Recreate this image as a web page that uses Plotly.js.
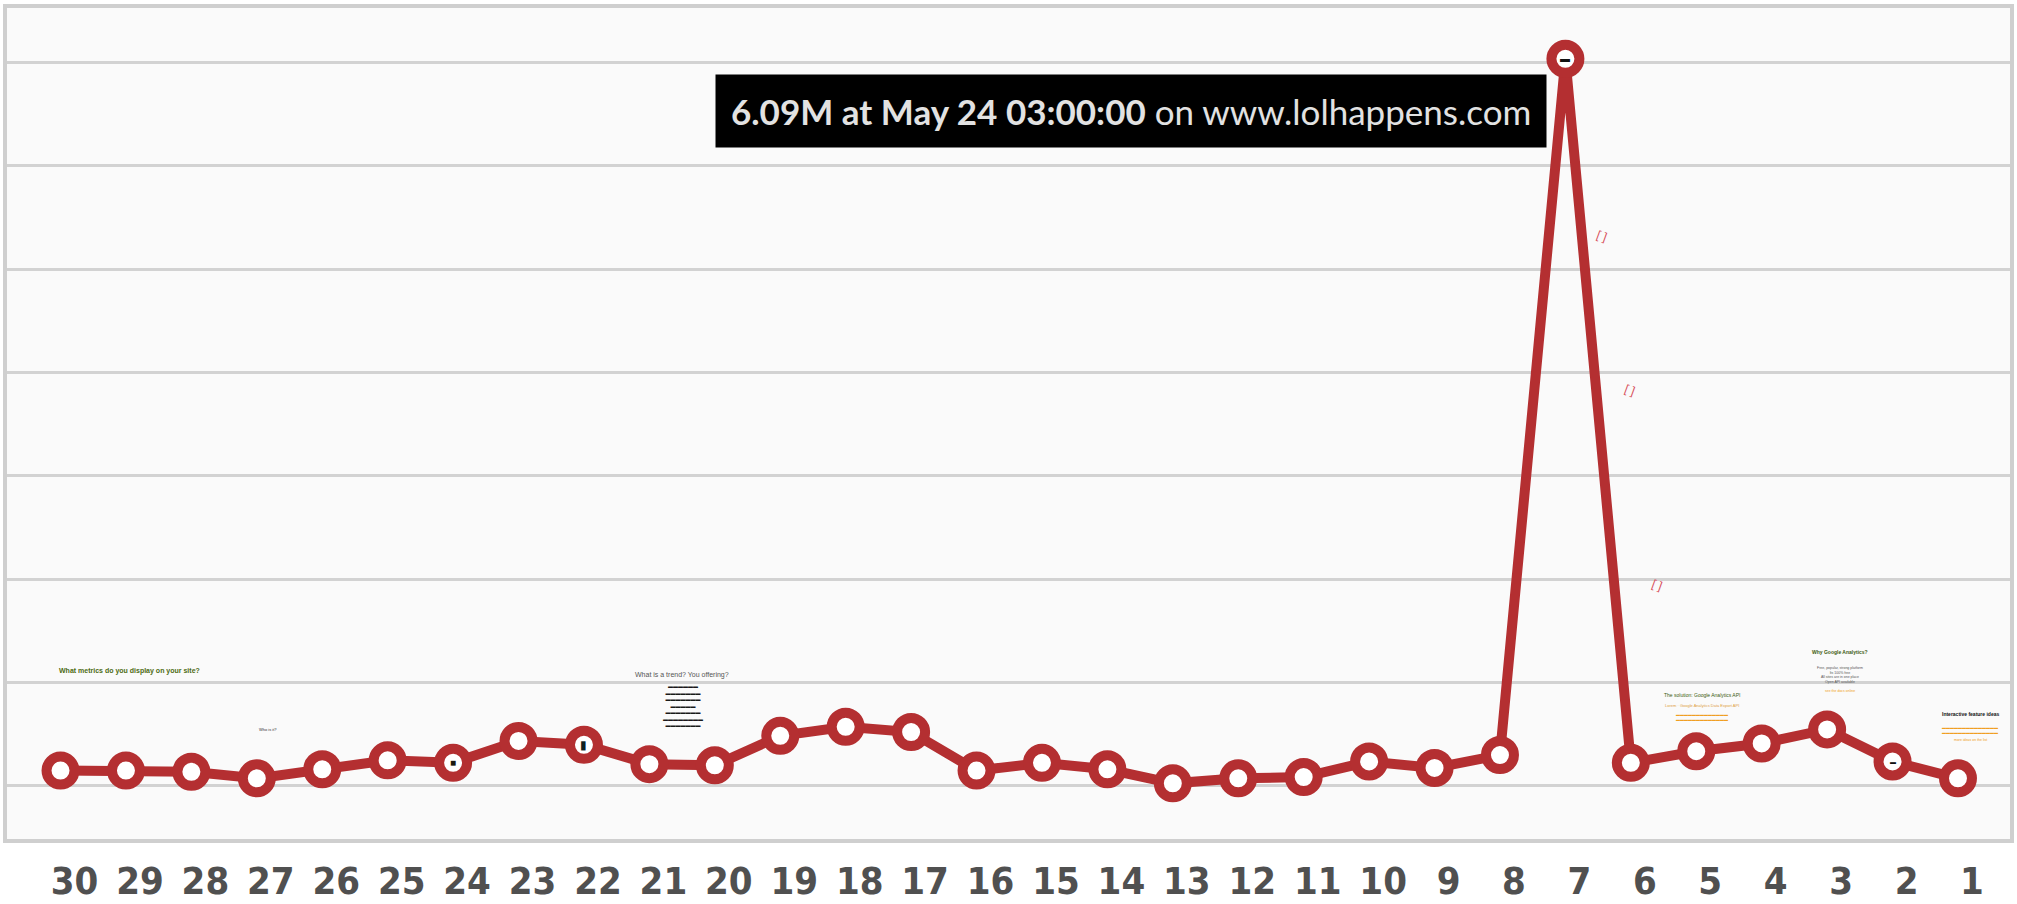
<!DOCTYPE html>
<html>
<head>
<meta charset="utf-8">
<script src="https://cdn.plot.ly/plotly-3.0.1.min.js"></script>
<style>
  html, body { margin: 0; padding: 0; background: #ffffff; }
  #chart { width: 2017px; height: 904px; }
</style>
</head>
<body>
<div id="chart"></div>
<script>
// ---- data ----
const days = ["30","29","28","27","26","25","24","23","22","21",
              "20","19","18","17","16","15","14","13","12","11",
              "10","9","8","7","6","5","4","3","2","1"];
const visitsM = [0.129,0.129,0.119,0.064,0.140,0.215,0.194,0.377,0.345,0.183,
                 0.173,0.420,0.496,0.452,0.129,0.194,0.140,0.022,0.064,0.075,
                 0.205,0.151,0.259,6.09,0.194,0.291,0.356,0.474,0.205,0.064];
const peakDate = "May 24 03:00:00";
const siteName = "www.lolhappens.com";

const RED = "#b42f31";
const peakIdx = visitsM.indexOf(Math.max(...visitsM));

const trace = {
  type: "scatter",
  mode: "lines+markers",
  x: days,
  y: visitsM,
  line: { color: RED, width: 10 },
  marker: { size: 28, color: "#ffffff", line: { color: RED, width: 10 } },
  hoverinfo: "none",
  cliponaxis: false
};

const tiny = (x, y, text, color, size, extra) => Object.assign({
  x: x, y: y, xref: "x", yref: "y", text: text, showarrow: false,
  font: { family: "Liberation Sans, Arial, sans-serif", size: size, color: color }
}, extra || {});

const annotations = [
  // tooltip for peak
  {
    x: peakIdx, y: visitsM[peakIdx], xref: "x", yref: "y",
    xanchor: "right", yanchor: "middle", xshift: -18, yshift: -52,
    showarrow: false, bgcolor: "#000000", borderpad: 15,
    text: "<b>" + visitsM[peakIdx].toFixed(2) + "M at " + peakDate + "</b> on " + siteName,
    font: { family: "Lato, 'Open Sans', sans-serif", size: 35, color: "#e2e2e2" }
  },
  // small decorative notes
  tiny(1.06, 0.963, "<b>What metrics do you display on your site?</b>", "#4d6b12", 7),
  tiny(3.17, 0.477, "Who is it?", "#333333", 4),
  tiny(9.50, 0.930, "What is a trend? You offering?", "#555555", 7),
  tiny(9.51, 0.670, "▬▬▬▬▬▬<br>▬▬▬▬▬▬▬<br>▬▬▬▬▬▬▬<br>▬▬▬▬▬<br>▬▬▬▬▬▬▬<br>▬▬▬▬▬▬▬▬<br>▬▬▬▬▬▬▬", "#1a1a1a", 5),
  tiny(25.09, 0.762, "The solution: Google Analytics API", "#3b5a10", 5),
  tiny(25.09, 0.672, "Lorem · Google Analytics Data Export API", "#e0a040", 4),
  tiny(25.09, 0.575, "<b>▬▬▬▬▬▬▬▬▬▬▬▬▬</b><br><b>▬▬▬▬▬▬▬▬▬▬▬▬▬</b>", "#f0a020", 4),
  tiny(27.20, 1.122, "<b>Why Google Analytics?</b>", "#3b5a10", 5),
  tiny(27.20, 0.930, "Free, popular, strong platform<br>Its 100% free<br>All sites are in one place<br>Open API available", "#555555", 3.5),
  tiny(27.20, 0.796, "see the docs online", "#f0a020", 3.5),
  tiny(29.19, 0.603, "<b>Interactive feature ideas</b>", "#111111", 5),
  tiny(29.19, 0.469, "<b>▬▬▬▬▬▬▬▬▬▬▬▬▬▬</b><br><b>▬▬▬▬▬▬▬▬▬▬▬▬▬▬</b>", "#f0a020", 4),
  tiny(29.19, 0.385, "more ideas on the list", "#f0a020", 3.5),
  // brackets along the descent
  tiny(23.56, 4.61, "[ ]", "#d8505a", 12, { textangle: 20 }),
  tiny(23.99, 3.32, "[ ]", "#d8505a", 12, { textangle: 20 }),
  tiny(24.40, 1.68, "[ ]", "#d8505a", 12, { textangle: 20 }),
  // icons inside some markers
  tiny(6, visitsM[6], "■", "#1a1a10", 10),
  tiny(8, visitsM[8], "▮", "#102020", 12),
  tiny(peakIdx, visitsM[peakIdx], "▬", "#111111", 10),
  tiny(28, visitsM[28], "▬", "#111111", 6)
];

const layout = {
  width: 2017, height: 904,
  margin: { l: 7, r: 7, t: 8, b: 65, pad: 0 },
  paper_bgcolor: "#ffffff",
  plot_bgcolor: "#fafafa",
  showlegend: false,
  xaxis: {
    type: "category",
    range: [-0.818, 29.795],
    showgrid: false, zeroline: false,
    showline: true, mirror: true, linecolor: "#cfcfcf", linewidth: 4,
    ticks: "", ticklabelshift: 14, ticklabelstandoff: 5,
    tickfont: { family: "'Liberation Sans Narrow', 'DejaVu Sans Condensed', 'Arial Narrow', sans-serif", size: 38, color: "#505050", weight: "bold" }
  },
  yaxis: {
    range: [-0.444, 6.516],
    tick0: 0, dtick: 0.866,
    showgrid: true, gridcolor: "#d2d2d2", gridwidth: 3,
    zeroline: false, showticklabels: false, ticks: "",
    showline: true, mirror: true, linecolor: "#cfcfcf", linewidth: 4
  },
  annotations: annotations
};

Plotly.newPlot("chart", [trace], layout, { displayModeBar: false, staticPlot: true });
</script>
</body>
</html>
